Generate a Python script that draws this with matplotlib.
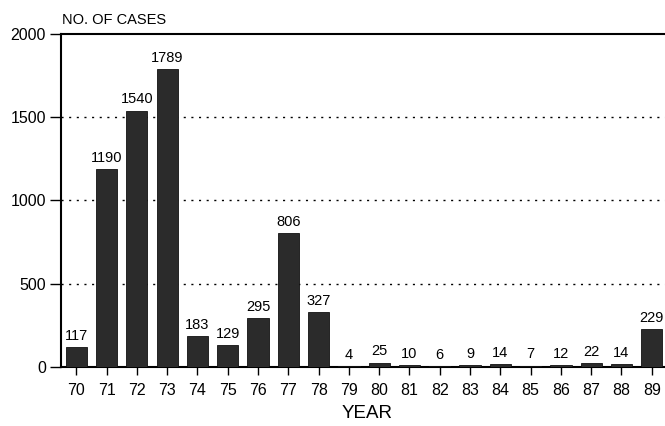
import matplotlib.pyplot as plt
import numpy as np

plt.rcParams['font.family'] = ['Liberation Sans', 'DejaVu Sans']

years = ['70', '71', '72', '73', '74', '75', '76', '77', '78', '79',
         '80', '81', '82', '83', '84', '85', '86', '87', '88', '89']
cases = [117, 1190, 1540, 1789, 183, 129, 295, 806, 327, 4,
         25, 10, 6, 9, 14, 7, 12, 22, 14, 229]

fig = plt.figure(figsize=(6.65, 4.26), dpi=100)
ax = fig.add_axes([0.092, 0.139, 0.92, 0.781])

x = np.arange(len(years))
ax.bar(x, cases, width=0.7, color='#2b2b2b', edgecolor='#111111', linewidth=0.6, zorder=3)

for xi, v in zip(x, cases):
    ax.text(xi, v + 25, str(v), ha='center', va='bottom', fontsize=10.5, zorder=4)

ax.set_xlim(-0.5, 19.7)
ax.set_ylim(0, 2000)
ax.set_yticks([0, 500, 1000, 1500, 2000])
ax.set_xticks(x)
ax.set_xticklabels(years)
ax.tick_params(axis='y', labelsize=11.5, length=8, width=1, direction='out', pad=3)
ax.tick_params(axis='x', labelsize=11.5, length=6, width=1, direction='out', pad=6)

for y in [500, 1000, 1500]:
    ax.axhline(y, color='black', linestyle=(0, (1.5, 4)), linewidth=1, zorder=1)

ax.spines['right'].set_visible(False)
ax.spines['left'].set_linewidth(1.5)
ax.spines['bottom'].set_linewidth(1.5)
ax.spines['top'].set_linewidth(1.5)

fig.text(0.093, 0.952, 'NO. OF CASES', fontsize=10.5, ha='left', va='center')
ax.set_xlabel('YEAR', fontsize=13.5, labelpad=5)

fig.savefig('out.png', dpi=100)
